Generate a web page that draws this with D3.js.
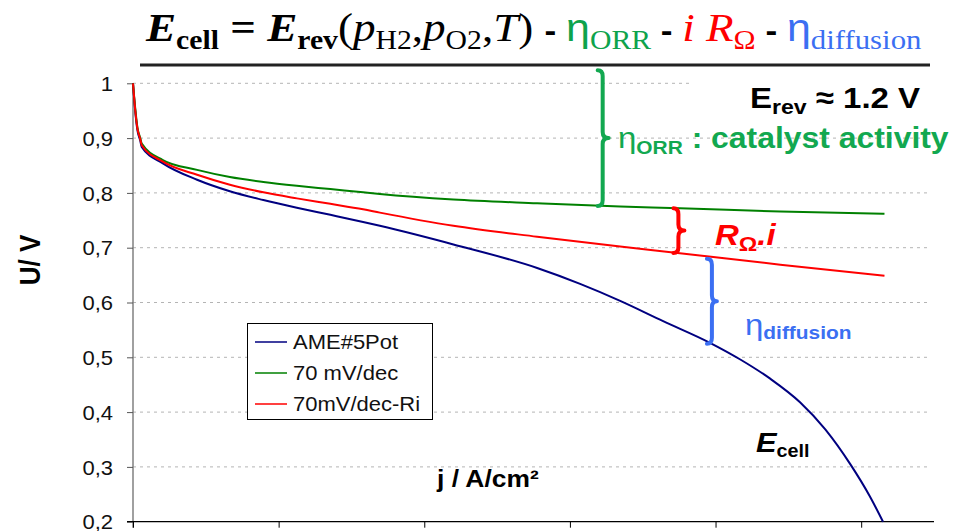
<!DOCTYPE html>
<meta charset="utf-8">
<head>
  <title>Polarisation curve</title>
</head>

<style>
body {
  margin: 0;
  background: #fff;
}
text {
  font-family: "Liberation Sans", Arial, sans-serif;
}
</style>

<body>
  <div id="content">
    <svg width="971" height="531"></svg>
  </div>

  <script src="https://cdnjs.cloudflare.com/ajax/libs/d3/7.8.5/d3.min.js"></script>

  <script>
// measured data, j in A/cm2, U in V
var jBlue = [0, 0.003, 0.006, 0.010, 0.012, 0.041, 0.088, 0.133, 0.179, 0.225, 0.271, 0.316, 0.339,
  0.440, 0.555, 0.614, 0.669, 0.728, 0.793, 0.834, 0.875, 0.916, 0.951, 0.985, 1.012, 1.030];
var uBlue = [1.0, 0.95, 0.915, 0.895, 0.884, 0.854, 0.824, 0.803, 0.787, 0.773, 0.760, 0.747, 0.740,
  0.706, 0.663, 0.634, 0.603, 0.566, 0.526, 0.496, 0.461, 0.418, 0.368, 0.305, 0.246, 0.200];

var jFit = [0, 0.003, 0.006, 0.010, 0.012, 0.041, 0.088, 0.133, 0.179, 0.225, 0.271, 0.316, 0.339,
  0.440, 0.555, 0.669, 0.751, 0.889, 1.032];
var uGreen = [1.0, 0.955, 0.92, 0.90, 0.89, 0.86, 0.842, 0.829, 0.82, 0.813, 0.807, 0.801, 0.798,
  0.788, 0.781, 0.775, 0.772, 0.766, 0.762];
var uRed = [1.0, 0.952, 0.918, 0.898, 0.887, 0.857, 0.833, 0.815, 0.801, 0.790, 0.780, 0.770, 0.764,
  0.740, 0.720, 0.702, 0.690, 0.669, 0.649];

var seriesNames = ['AME#5Pot', '70 mV/dec', '70mV/dec-Ri'];
var seriesColors = ['#000080', '#008000', '#ff0000'];

var yTicks = [0.2, 0.3, 0.4, 0.5, 0.6, 0.7, 0.8, 0.9, 1];
var xTicks = [0, 0.2, 0.4, 0.6, 0.8, 1.0];

var svg = d3.select('#content svg');

var x = d3.scaleLinear().domain([0, 1.1]).range([133, 934]);
var y = d3.scaleLinear().domain([0.2, 1.0]).range([521.7, 83.3]);

var SX = 1.1; // the original picture is a bit stretched sideways
var SERIF = '"Liberation Serif", serif';

function valAt(js, us, j) {
  var i = d3.bisectRight(js, j);
  if (i <= 0) return us[0];
  if (i >= js.length) return us[us.length - 1];
  var t = (j - js[i - 1]) / (js[i] - js[i - 1]);
  return us[i - 1] + t * (us[i] - us[i - 1]);
}

// text made of several styled pieces
function rich(x0, y0, parts) {
  var t = svg.append('text')
    .attr('transform', 'translate(' + x0 + ',' + y0 + ') scale(' + SX + ',1)');
  var shift = 0;
  parts.forEach(function(p) {
    var s = p.sub || 0;
    t.append('tspan')
      .attr('dy', s - shift)
      .style('font-family', p.family || null)
      .style('font-size', p.size + 'px')
      .style('font-weight', p.weight || 'bold')
      .style('font-style', p.style || 'normal')
      .style('fill', p.fill || '#000')
      .text(p.t);
    shift = s;
  });
  return t;
}

// grid
svg.append('g')
  .selectAll('line')
  .data(yTicks.filter(function(d) { return d > 0.2; }))
  .join('line')
  .attr('x1', x(0))
  .attr('x2', function(d) { return d === 1 ? 692 : 930; })
  .attr('y1', function(d) { return y(d); })
  .attr('y2', function(d) { return y(d); })
  .attr('stroke', '#b4b4b4')
  .attr('stroke-width', 1)
  .attr('stroke-dasharray', '3,4');

// axes
var yAxis = d3.axisLeft(y).tickValues(yTicks).tickSize(6).tickPadding(14)
  .tickFormat(function(d) { return d === 1 ? '1' : d3.format('.1f')(d).replace('.', ','); });
var gy = svg.append('g').attr('transform', 'translate(' + x(0) + ',0)').call(yAxis);
gy.select('.domain').attr('stroke', '#808080').attr('stroke-width', 1.5)
  .attr('d', 'M0,' + y(1) + 'V' + (y(0.2) + 6));
gy.selectAll('.tick line').attr('stroke', '#555');
gy.selectAll('.tick text')
  .style('font-size', '20px')
  .style('font-family', '"Liberation Sans", Arial, sans-serif')
  .attr('fill', '#111')
  .attr('dy', '0.36em')
  .attr('transform', 'scale(' + SX + ',1)')
  .attr('x', -20 / SX);

var xAxis = d3.axisBottom(x).tickValues(xTicks).tickSize(6).tickFormat('');
var gx = svg.append('g').attr('transform', 'translate(0,' + y(0.2) + ')').call(xAxis);
gx.select('.domain').attr('stroke', '#000').attr('stroke-width', 1.3)
  .attr('d', 'M' + (x(0) - 6) + ',0H' + x(1.1));
gx.selectAll('.tick line').attr('stroke', '#000');

// curves
var line = d3.line().curve(d3.curveMonotoneX);
var curves = [
  { js: jBlue, us: uBlue },
  { js: jFit, us: uGreen },
  { js: jFit, us: uRed }
];
svg.append('g')
  .selectAll('path')
  .data(curves)
  .join('path')
  .attr('fill', 'none')
  .attr('stroke', function(d, i) { return seriesColors[i]; })
  .attr('stroke-width', 2)
  .attr('d', function(d) {
    return line(d.js.map(function(j, k) { return [x(j), y(d.us[k])]; }));
  });

// title
rich(146, 41, [
  { t: 'E', size: 41, style: 'italic', family: SERIF },
  { t: 'cell', size: 27, sub: 8, family: SERIF },
  { t: ' = ', size: 41, family: SERIF },
  { t: 'E', size: 41, style: 'italic', family: SERIF },
  { t: 'rev', size: 27, sub: 8, family: SERIF },
  { t: '(', size: 41, weight: 'normal', family: SERIF },
  { t: 'p', size: 41, weight: 'normal', style: 'italic', family: SERIF },
  { t: 'H2', size: 27, weight: 'normal', sub: 8, family: SERIF },
  { t: ',', size: 41, weight: 'normal', family: SERIF },
  { t: 'p', size: 41, weight: 'normal', style: 'italic', family: SERIF },
  { t: 'O2', size: 27, weight: 'normal', sub: 8, family: SERIF },
  { t: ',', size: 41, weight: 'normal', family: SERIF },
  { t: 'T', size: 41, weight: 'normal', style: 'italic', family: SERIF },
  { t: ') ', size: 41, weight: 'normal', family: SERIF },
  { t: '- ', size: 32 },
  { t: '\u03b7', size: 39, weight: 'normal', fill: '#0ea34c' },
  { t: 'ORR', size: 27, weight: 'normal', sub: 8, fill: '#0ea34c', family: SERIF },
  { t: ' -  ', size: 32 },
  { t: 'i R', size: 41, weight: 'normal', style: 'italic', fill: '#ff0000', family: SERIF },
  { t: '\u03a9', size: 27, weight: 'normal', sub: 8, fill: '#ff0000', family: SERIF },
  { t: ' - ', size: 32 },
  { t: '\u03b7', size: 39, weight: 'normal', fill: '#3b6ff2' },
  { t: 'diffusion', size: 28, weight: 'normal', sub: 8, fill: '#3b6ff2', family: SERIF }
]);

svg.append('line')
  .attr('x1', 140).attr('x2', 930)
  .attr('y1', 65).attr('y2', 65)
  .attr('stroke', '#222').attr('stroke-width', 3);

// axis titles
svg.append('text')
  .attr('transform', 'translate(40,260) rotate(-90) scale(1,' + SX + ')')
  .attr('text-anchor', 'middle')
  .style('font-size', '26px')
  .style('font-weight', 'bold')
  .text('U/ V');

rich(437, 487, [{ t: 'j / A/cm\u00b2', size: 24 }]);

// braces
function brace(xb, y1, y2, w, color) {
  var ym = (y1 + y2) / 2, r = 6;
  var d = 'M' + (xb - 5) + ',' + y1 +
    'Q' + xb + ',' + y1 + ' ' + xb + ',' + (y1 + r) +
    'L' + xb + ',' + (ym - r) +
    'Q' + xb + ',' + ym + ' ' + (xb + w) + ',' + ym +
    'Q' + xb + ',' + ym + ' ' + xb + ',' + (ym + r) +
    'L' + xb + ',' + (y2 - r) +
    'Q' + xb + ',' + y2 + ' ' + (xb - 5) + ',' + y2;
  svg.append('path').attr('d', d).attr('fill', 'none')
    .attr('stroke', color).attr('stroke-width', 4)
    .attr('stroke-linecap', 'round').attr('stroke-linejoin', 'round');
}

var jOrr = 0.645, jOhm = 0.749, jDif = 0.795;
brace(x(jOrr), y(1.024), y(valAt(jFit, uGreen, jOrr)), 6, '#12a850');
brace(x(jOhm), y(valAt(jFit, uGreen, jOhm)), y(valAt(jFit, uRed, jOhm)), 6, '#ff0000');
brace(x(jDif), y(valAt(jFit, uRed, jDif)) + 2, y(valAt(jBlue, uBlue, jDif)), 5, '#3b6ff2');

// legend
var lg = svg.append('g');
lg.append('rect')
  .attr('x', 247.5).attr('y', 323.5).attr('width', 185).attr('height', 96)
  .attr('fill', '#fff').attr('stroke', '#000').attr('stroke-width', 1);
seriesNames.forEach(function(name, i) {
  var ly = 342 + i * 31;
  lg.append('line').attr('x1', 255).attr('x2', 287).attr('y1', ly).attr('y2', ly)
    .attr('stroke', seriesColors[i]).attr('stroke-width', 1.5);
  lg.append('text')
    .attr('transform', 'translate(293,' + (ly + 7) + ') scale(' + SX + ',1)')
    .style('font-size', '20px')
    .attr('fill', '#111')
    .text(name);
});

// annotations
svg.append('rect').attr('x', 692).attr('y', 72).attr('width', 248).attr('height', 46).attr('fill', '#fff');
rich(750, 108, [
  { t: 'E', size: 30 },
  { t: 'rev', size: 21, sub: 6 },
  { t: ' \u2248 1.2 V', size: 30 }
]);

rich(618, 148, [
  { t: '\u03b7', size: 30, weight: 'normal', fill: '#12a850' },
  { t: 'ORR', size: 19, sub: 6, fill: '#12a850' },
  { t: '  : catalyst activity', size: 29, fill: '#12a850' }
]);

rich(715, 245, [
  { t: 'R', size: 30, style: 'italic', fill: '#ff0000' },
  { t: '\u03a9', size: 21, sub: 6, fill: '#ff0000' },
  { t: '.i', size: 30, style: 'italic', fill: '#ff0000' }
]);

rich(745, 335, [
  { t: '\u03b7', size: 30, weight: 'normal', fill: '#3b6ff2' },
  { t: 'diffusion', size: 19, sub: 4, fill: '#3b6ff2' }
]);

rich(756, 452, [
  { t: 'E', size: 28, style: 'italic' },
  { t: 'cell', size: 18, sub: 5 }
]);
  </script>
</body>
</html>
